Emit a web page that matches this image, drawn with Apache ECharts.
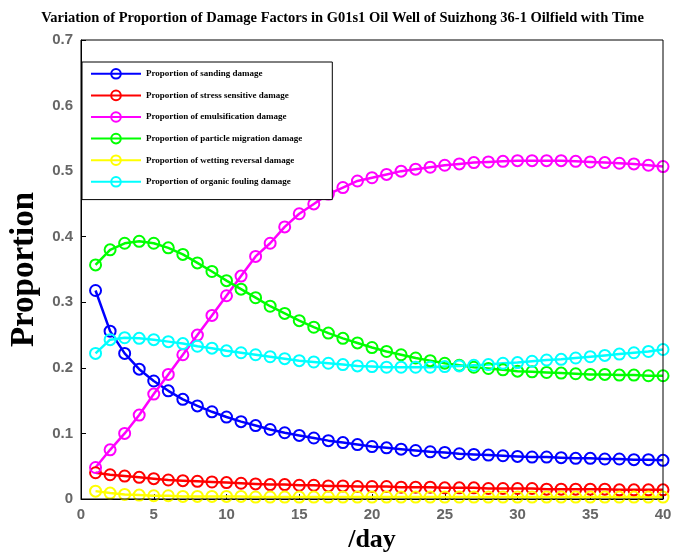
<!DOCTYPE html><html><head><meta charset="utf-8"><script src="https://cdn.jsdelivr.net/npm/echarts@6/dist/echarts.min.js"></script></head><body style="margin:0"><div id="c" style="width:685px;height:558px"></div><script>
const days=[];for(let i=1;i<=40;i++)days.push(i);
const sanding=[0.318,0.256,0.222,0.198,0.18,0.165,0.152,0.142,0.133,0.125,0.118,0.112,0.106,0.101,0.097,0.093,0.089,0.086,0.083,0.080,0.078,0.076,0.074,0.072,0.071,0.069,0.068,0.067,0.066,0.065,0.064,0.064,0.063,0.062,0.062,0.061,0.061,0.060,0.060,0.059];
const stress=[0.040,0.037,0.035,0.033,0.031,0.029,0.028,0.027,0.026,0.025,0.024,0.023,0.022,0.022,0.021,0.021,0.020,0.020,0.019,0.019,0.019,0.018,0.018,0.018,0.017,0.017,0.017,0.016,0.016,0.016,0.016,0.015,0.015,0.015,0.015,0.015,0.014,0.014,0.014,0.014];
const emuls=[0.048,0.075,0.10,0.128,0.16,0.19,0.22,0.25,0.28,0.31,0.34,0.37,0.39,0.415,0.435,0.45,0.465,0.475,0.485,0.49,0.495,0.50,0.503,0.506,0.509,0.511,0.513,0.514,0.515,0.516,0.516,0.516,0.516,0.515,0.514,0.513,0.512,0.511,0.509,0.507];
const particle=[0.357,0.38,0.39,0.393,0.39,0.383,0.373,0.36,0.347,0.333,0.32,0.307,0.294,0.283,0.272,0.262,0.253,0.245,0.238,0.231,0.225,0.22,0.215,0.211,0.207,0.204,0.201,0.199,0.197,0.195,0.194,0.193,0.192,0.191,0.19,0.19,0.189,0.189,0.188,0.188];
const wetting=[0.012,0.009,0.007,0.006,0.005,0.005,0.004,0.004,0.004,0.004,0.004,0.003,0.003,0.003,0.003,0.003,0.003,0.003,0.003,0.003,0.003,0.003,0.003,0.003,0.003,0.003,0.003,0.003,0.003,0.003,0.003,0.003,0.003,0.003,0.003,0.003,0.003,0.003,0.003,0.003];
const organic=[0.222,0.243,0.246,0.245,0.243,0.24,0.237,0.233,0.23,0.226,0.223,0.22,0.217,0.214,0.211,0.209,0.207,0.205,0.203,0.202,0.201,0.201,0.201,0.201,0.202,0.203,0.204,0.205,0.207,0.208,0.21,0.212,0.213,0.215,0.217,0.219,0.221,0.223,0.225,0.228];
const names=['Proportion of sanding damage','Proportion of stress sensitive damage','Proportion of emulsification damage','Proportion of particle migration damage','Proportion of wetting reversal damage','Proportion of organic fouling damage'];
const colors=['#0000ff','#ff0000','#ff00ff','#00ff00','#ffff00','#00ffff'];
const datas=[sanding,stress,emuls,particle,wetting,organic];
const serif='"Liberation Serif","DejaVu Serif",serif';
const chart=echarts.init(document.getElementById('c'));
chart.setOption({
animation:false,
backgroundColor:'#fff',
title:{text:'Variation of Proportion of Damage Factors in G01s1 Oil Well of Suizhong 36-1 Oilfield with Time',left:'center',top:6,textStyle:{fontFamily:serif,fontWeight:'bold',fontSize:14.5,color:'#000'}},
grid:{left:70,right:22,top:40,bottom:51,show:true,borderColor:'#000',borderWidth:1,z:10},
legend:{orient:'vertical',left:82,top:62,itemGap:10,itemWidth:50,itemHeight:12,backgroundColor:'#fff',borderColor:'#000',borderWidth:1,padding:[6,30,12,8],
 textStyle:{fontFamily:serif,fontWeight:'bold',fontSize:9,color:'#000'},data:names},
xAxis:{type:'value',min:0,max:40,interval:5,axisLine:{lineStyle:{color:'#000'}},axisTick:{inside:true,lineStyle:{color:'#000'}},splitLine:{show:false},
 axisLabel:{fontFamily:'Arial',fontSize:15,fontWeight:'bold',color:'#666'},name:'/day',nameLocation:'middle',nameGap:28,nameTextStyle:{fontFamily:serif,fontWeight:'bold',fontSize:26,color:'#000'}},
yAxis:{type:'value',min:0,max:0.7,interval:0.1,axisLine:{show:true,lineStyle:{color:'#000'}},axisTick:{inside:true,lineStyle:{color:'#000'}},splitLine:{show:false},
 axisLabel:{fontFamily:'Arial',fontSize:15,fontWeight:'bold',color:'#666',formatter:v=>v===0?'0':v.toFixed(1)},name:'Proportion',nameLocation:'middle',nameGap:40,nameTextStyle:{fontFamily:serif,fontWeight:'bold',fontSize:33,color:'#000'}},
series:names.map((n,i)=>({name:n,type:'line',data:days.map((d,j)=>[d,datas[i][j]]),symbol:'circle',symbolSize:11,showAllSymbol:true,
 lineStyle:{width:2.5,color:colors[i]},itemStyle:{color:'rgba(255,255,255,0)',borderColor:colors[i],borderWidth:2}}))
});
</script></body></html>
